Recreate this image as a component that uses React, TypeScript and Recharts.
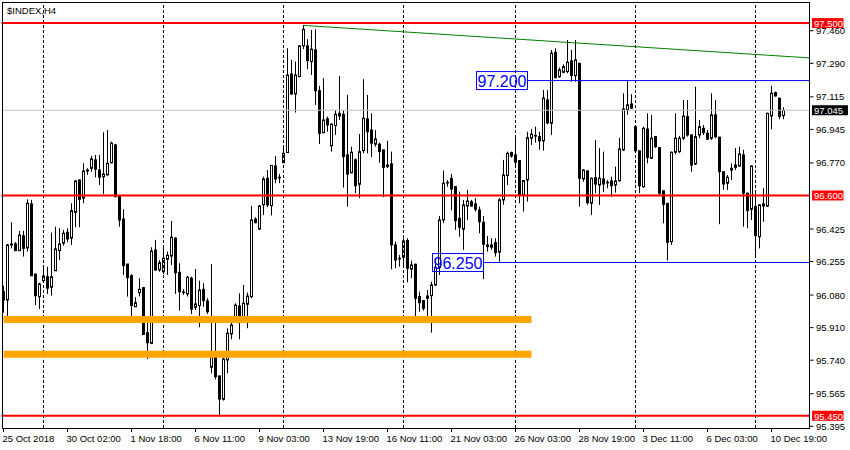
import { ComposedChart, Bar, XAxis, YAxis, ReferenceLine } from "recharts";

// H4 candles (oldest first)
const opens = [
  96.098, 96.054, 96.342, 96.347, 96.312, 96.389, 96.326, 96.556, 96.19, 96.072,
  96.155, 96.176, 96.121, 96.207, 96.312, 96.351, 96.408, 96.377, 96.512, 96.681,
  96.586, 96.728, 96.742, 96.786, 96.733, 96.698, 96.707, 96.771, 96.864, 96.598,
  96.477, 96.242, 96.181, 96.019, 96.093, 96.119, 95.884, 95.828, 96.316, 96.211,
  96.202, 96.267, 96.284, 96.377, 96.199, 96.096, 96.086, 96.168, 96.016, 96.025,
  96.11, 96.049, 95.703, 95.758, 95.658, 95.536, 95.741, 95.877, 95.964, 96.023,
  95.95, 96.032, 96.072, 96.477, 96.425, 96.551, 96.69, 96.547, 96.754, 96.695,
  96.771, 96.824, 97.235, 97.13, 97.221, 97.381, 97.381, 97.299, 97.36, 97.147,
  96.928, 97.0, 96.86, 96.965, 97.029, 97.024, 96.812, 96.719, 96.786, 96.659,
  96.834, 97.0, 96.942, 96.868, 96.868, 96.838, 96.759, 96.765, 96.342, 96.272,
  96.277, 96.365, 96.215, 96.241, 96.072, 96.051, 96.063, 96.077, 96.133, 96.225,
  96.472, 96.667, 96.69, 96.646, 96.481, 96.424, 96.545, 96.568, 96.556, 96.524,
  96.46, 96.342, 96.33, 96.354, 96.304, 96.577, 96.704, 96.824, 96.812, 96.782,
  96.603, 96.681, 96.899, 96.911, 96.907, 96.885, 97.099, 96.977, 97.348, 97.221,
  97.243, 97.247, 97.303, 97.226, 97.29, 96.686, 96.728, 96.559, 96.693, 96.655,
  96.686, 96.669, 96.676, 96.655, 96.677, 96.838, 97.047, 97.078, 96.959, 96.833,
  96.646, 96.947, 96.794, 96.907, 96.85, 96.624, 96.559, 96.359, 96.826, 96.829,
  96.899, 97.012, 96.916, 96.765, 96.916, 96.951, 96.925, 96.899, 97.021, 96.904,
  96.724, 96.664, 96.733, 96.747, 96.754, 96.812, 96.612, 96.528, 96.542, 96.385,
  96.545, 96.545, 97.015, 97.137, 97.108, 97.017,
];
const highs = [
  96.129, 96.347, 96.46, 96.357, 96.415, 96.415, 96.58, 96.577, 96.19, 96.145,
  96.228, 96.228, 96.406, 96.437, 96.429, 96.42, 96.429, 96.559, 96.681, 96.685,
  96.768, 96.742, 96.806, 96.812, 96.812, 96.93, 96.942, 96.881, 96.869, 96.598,
  96.528, 96.242, 96.189, 96.069, 96.168, 96.122, 95.95, 96.33, 96.368, 96.263,
  96.333, 96.307, 96.467, 96.382, 96.246, 96.11, 96.18, 96.176, 96.216, 96.155,
  96.142, 96.063, 96.242, 95.938, 95.658, 95.755, 95.907, 95.971, 96.037, 96.089,
  96.133, 96.093, 96.545, 96.486, 96.551, 96.698, 96.733, 96.759, 96.806, 96.712,
  96.859, 97.369, 97.308, 97.299, 97.384, 97.49, 97.416, 97.464, 97.468, 97.172,
  97.212, 97.012, 96.977, 97.047, 97.224, 97.047, 97.125, 96.855, 96.794, 96.921,
  97.207, 97.125, 97.029, 96.942, 96.876, 96.84, 96.886, 96.829, 96.359, 96.289,
  96.377, 96.377, 96.26, 96.244, 96.098, 96.054, 96.107, 96.15, 96.272, 96.493,
  96.73, 96.681, 96.712, 96.648, 96.62, 96.577, 96.629, 96.577, 96.586, 96.542,
  96.493, 96.389, 96.377, 96.377, 96.586, 96.786, 96.829, 96.829, 96.899, 96.785,
  96.68, 96.933, 96.947, 96.959, 96.933, 97.151, 97.151, 97.36, 97.369, 97.268,
  97.285, 97.412, 97.36, 97.412, 97.293, 96.737, 96.731, 96.693, 96.89, 96.847,
  96.829, 96.681, 96.698, 96.751, 96.902, 97.134, 97.203, 97.129, 96.962, 96.835,
  96.959, 97.029, 97.021, 96.91, 96.853, 96.627, 96.562, 96.829, 97.029, 96.911,
  97.099, 97.099, 96.919, 97.168, 96.994, 96.968, 96.942, 97.134, 97.099, 96.907,
  96.727, 96.707, 96.768, 96.847, 96.855, 96.838, 96.615, 96.757, 96.612, 96.554,
  96.638, 97.032, 97.172, 97.142, 97.11, 97.061,
];
const lows = [
  95.988, 95.94, 96.324, 96.31, 96.31, 96.281, 96.307, 96.18, 96.028, 96.007,
  96.154, 96.086, 96.077, 96.207, 96.263, 96.338, 96.356, 96.342, 96.434, 96.434,
  96.559, 96.707, 96.724, 96.695, 96.655, 96.608, 96.707, 96.768, 96.591, 96.437,
  96.185, 96.072, 95.959, 96.019, 96.073, 95.872, 95.746, 95.828, 96.207, 96.202,
  96.19, 96.185, 96.237, 96.086, 95.999, 96.081, 96.072, 95.981, 96.002, 95.912,
  96.019, 95.981, 95.672, 95.64, 95.445, 95.529, 95.672, 95.849, 95.938, 95.849,
  95.941, 95.907, 96.063, 96.455, 96.42, 96.498, 96.539, 96.496, 96.664, 96.664,
  96.771, 96.824, 97.125, 97.033, 97.217, 97.364, 97.259, 97.229, 97.073, 96.869,
  96.925, 96.933, 96.829, 96.916, 96.994, 96.641, 96.542, 96.716, 96.612, 96.586,
  96.82, 96.82, 96.8, 96.855, 96.771, 96.591, 96.744, 96.215, 96.22, 96.228,
  96.228, 96.147, 96.168, 95.941, 95.993, 95.999, 95.967, 95.884, 96.128, 96.185,
  96.455, 96.646, 96.524, 96.42, 96.385, 96.316, 96.472, 96.542, 96.516, 96.403,
  96.163, 96.307, 96.316, 96.281, 96.254, 96.551, 96.655, 96.798, 96.747, 96.559,
  96.516, 96.568, 96.864, 96.876, 96.838, 96.834, 96.972, 96.916, 97.212, 97.215,
  97.238, 97.238, 97.194, 97.194, 96.542, 96.672, 96.551, 96.498, 96.612, 96.551,
  96.617, 96.638, 96.594, 96.615, 96.672, 96.833, 97.021, 97.052, 96.829, 96.612,
  96.641, 96.768, 96.791, 96.848, 96.603, 96.455, 96.26, 96.342, 96.815, 96.822,
  96.89, 96.907, 96.724, 96.759, 96.899, 96.916, 96.89, 96.89, 96.899, 96.45,
  96.629, 96.629, 96.681, 96.733, 96.751, 96.437, 96.429, 96.472, 96.281, 96.324,
  96.463, 96.54, 96.946, 97.116, 96.998, 96.998,
];
const closes = [
  96.054, 96.342, 96.347, 96.312, 96.394, 96.324, 96.559, 96.181, 96.077, 96.138,
  96.18, 96.116, 96.176, 96.321, 96.347, 96.403, 96.373, 96.521, 96.676, 96.58,
  96.728, 96.733, 96.791, 96.737, 96.695, 96.712, 96.768, 96.873, 96.594, 96.472,
  96.234, 96.171, 96.025, 96.04, 96.11, 95.875, 95.831, 96.31, 96.211, 96.249,
  96.272, 96.288, 96.382, 96.197, 96.098, 96.093, 96.173, 96.007, 96.034, 96.107,
  96.051, 95.993, 95.764, 95.654, 95.537, 95.746, 95.881, 95.924, 96.028, 95.946,
  96.037, 96.075, 96.472, 96.458, 96.545, 96.686, 96.551, 96.757, 96.686, 96.694,
  96.82, 97.229, 97.13, 97.229, 97.381, 97.468, 97.304, 97.364, 97.147, 96.925,
  96.994, 96.968, 96.972, 97.024, 97.015, 96.803, 96.712, 96.826, 96.651, 96.829,
  97.003, 96.933, 96.873, 96.895, 96.829, 96.747, 96.751, 96.342, 96.263, 96.27,
  96.363, 96.22, 96.237, 96.063, 96.04, 96.011, 96.075, 96.133, 96.225, 96.472,
  96.664, 96.669, 96.634, 96.469, 96.434, 96.551, 96.571, 96.545, 96.528, 96.463,
  96.345, 96.333, 96.342, 96.301, 96.577, 96.707, 96.82, 96.806, 96.774, 96.603,
  96.678, 96.902, 96.921, 96.913, 96.885, 97.109, 96.979, 97.343, 97.215, 97.256,
  97.273, 97.296, 97.226, 97.308, 96.69, 96.733, 96.562, 96.69, 96.66, 96.69,
  96.66, 96.667, 96.651, 96.676, 96.843, 97.052, 97.073, 97.056, 96.833, 96.651,
  96.951, 96.798, 96.899, 96.855, 96.612, 96.554, 96.356, 96.826, 96.899, 96.899,
  97.015, 96.916, 96.759, 96.907, 96.959, 96.928, 96.894, 97.021, 96.907, 96.724,
  96.66, 96.695, 96.742, 96.759, 96.817, 96.612, 96.521, 96.754, 96.39, 96.551,
  96.556, 97.029, 97.134, 97.12, 97.012, 97.045,
];

// bar slots incl. the empty chart shift on the right
const SLOTS = 202;

const timeTickBars = [0, 16, 32, 48, 64, 80, 96, 112, 128, 144, 160, 176, 192];
const timeTickLabels = [
  "25 Oct 2018", "30 Oct 02:00", "1 Nov 18:00", "6 Nov 11:00", "9 Nov 03:00",
  "13 Nov 19:00", "16 Nov 11:00", "21 Nov 03:00", "26 Nov 03:00", "28 Nov 19:00",
  "3 Dec 11:00", "6 Dec 03:00", "10 Dec 19:00",
];
const weekStartBars = [10, 40, 70, 100, 128, 158, 188];

// 96.600 is shown by its red tag
const priceTicks = [
  97.46, 97.29, 97.115, 96.945, 96.77, 96.425, 96.255, 96.08, 95.91, 95.74, 95.565, 95.395,
];
const redLevels = [97.5, 96.6, 95.45];
const lastPrice = 97.045;
const orangeLevels = [95.953, 95.771];
const orangeEndBar = 132;
const blueLevels = [
  { price: 97.2, fromBar: 131 },
  { price: 96.25, fromBar: 120 },
];
const trend = [
  { x: 75, y: 97.488 },
  { x: 201, y: 97.319 },
];

const data = Array.from({ length: SLOTS }, (_, i) =>
  i < opens.length
    ? { i, o: opens[i], h: highs[i], l: lows[i], c: closes[i], range: [lows[i], highs[i]] }
    : { i, range: null }
);

const FONT = "'Liberation Sans', Arial, sans-serif";

function Candle(props: any) {
  const { x, y, width, height, payload } = props;
  if (!payload || payload.o == null) return null;
  const { o, h, l, c } = payload;
  const top = Math.min(y, y + height);
  const span = Math.abs(height);
  const cx = Math.round(x + width / 2 - 0.5) + 0.5;
  const py = (v: number) => top + ((h - v) / (h - l)) * span;
  const bTop = py(Math.max(o, c));
  const bBot = py(Math.min(o, c));
  const up = c >= o;
  return (
    <g>
      <line x1={cx} x2={cx} y1={top} y2={top + span} stroke="#000" strokeWidth={1} />
      <rect
        x={cx - 1}
        y={bTop}
        width={2}
        height={Math.max(bBot - bTop, 0.6)}
        fill={up ? "#fff" : "#000"}
        stroke="#000"
        strokeWidth={1}
      />
    </g>
  );
}

const XTick = (p: any) => {
  const k = timeTickBars.indexOf(p.payload.value);
  return (
    <g>
      <line x1={p.x} x2={p.x} y1={428} y2={432} stroke="#000" />
      <text x={p.x - 1} y={442} fontSize={9.5} fontFamily={FONT} fill="#000">
        {timeTickLabels[k]}
      </text>
    </g>
  );
};

const YTick = (p: any) => (
  <g>
    <line x1={809.5} x2={813.5} y1={p.y} y2={p.y} stroke="#000" />
    <text x={816} y={p.y} dominantBaseline="central" fontSize={9.5} fontFamily={FONT} fill="#000">
      {Number(p.payload.value).toFixed(3)}
    </text>
  </g>
);

const priceTag = (text: string, bg: string, w: number) => (p: any) => {
  const vb = p.viewBox;
  const right = vb.x + vb.width;
  return (
    <g>
      <rect x={right + 2.5} y={vb.y - 5} width={w} height={10} fill={bg} />
      <text x={right + 4.5} y={vb.y + 0.5} dominantBaseline="central" fontSize={9.5} fontFamily={FONT} fill="#fff">
        {text}
      </text>
    </g>
  );
};

// horizontal line from an anchor bar to the right edge, with the price box left of the anchor
const blueShape = (text: string) => (p: any) => {
  const { x1, x2, y1 } = p;
  const sx = Math.min(x1, x2);
  const ex = Math.max(x1, x2) + 2;
  return (
    <g>
      <line x1={sx} x2={ex} y1={y1} y2={y1} stroke="#0000FF" strokeWidth={1} />
      <rect x={sx - 51} y={y1 - 9} width={51} height={18} fill="none" stroke="#0000FF" strokeWidth={1} />
      <text x={sx - 25.5} y={y1 + 0.5} textAnchor="middle" dominantBaseline="central" fontSize={16} fontFamily={FONT} fill="#0000FF">
        {text}
      </text>
    </g>
  );
};

const trendShape = (p: any) => {
  const { x1, y1, x2, y2 } = p;
  const step = (x2 - x1) / (trend[1].x - trend[0].x);
  const ex = x2 + step / 2;
  const ey = y2 + ((y2 - y1) / (x2 - x1)) * (step / 2);
  return <line x1={x1} y1={y1} x2={ex} y2={ey} stroke="#008000" strokeWidth={1} />;
};

export default function App() {
  return (
    <div style={{ position: "absolute", left: 0, top: 0, width: 850, height: 450, background: "#fff" }}>
      <ComposedChart
        width={850}
        height={450}
        data={data}
        margin={{ top: 3, right: 0.5, bottom: 0, left: 1.5 }}
        barCategoryGap={0}
      >
        <XAxis
          dataKey="i"
          type="category"
          ticks={timeTickBars}
          interval={0}
          tick={XTick}
          tickLine={false}
          axisLine={false}
          height={22}
        />
        <YAxis
          orientation="right"
          type="number"
          domain={[95.386, 97.605]}
          allowDataOverflow
          ticks={priceTicks}
          interval={0}
          tick={YTick}
          tickLine={false}
          axisLine={false}
          width={40}
        />
        {weekStartBars.map((b) => (
          <ReferenceLine key={"w" + b} x={b} stroke="#000" strokeDasharray="3 2" />
        ))}
        <ReferenceLine
          y={lastPrice}
          stroke="#C0C0C0"
          label={priceTag(lastPrice.toFixed(3), "#000", 36)}
        />
        <Bar dataKey="range" shape={<Candle />} isAnimationActive={false} />
        {orangeLevels.map((v) => (
          <ReferenceLine
            key={"o" + v}
            segment={[
              { x: 0, y: v },
              { x: orangeEndBar, y: v },
            ]}
            stroke="#FFA500"
            strokeWidth={7}
          />
        ))}
        <ReferenceLine segment={trend} shape={trendShape} />
        {blueLevels.map((b) => (
          <ReferenceLine
            key={"b" + b.price}
            segment={[
              { x: b.fromBar, y: b.price },
              { x: SLOTS - 1, y: b.price },
            ]}
            shape={blueShape(b.price.toFixed(3))}
          />
        ))}
        {redLevels.map((v) => (
          <ReferenceLine
            key={"r" + v}
            y={v}
            stroke="#FF0000"
            strokeWidth={2}
            label={priceTag(v.toFixed(3), "#FF0000", 31.5)}
          />
        ))}
      </ComposedChart>
      <div
        style={{
          position: "absolute",
          left: 2,
          top: 2,
          width: 808,
          height: 427,
          border: "1px solid #000",
          boxSizing: "border-box",
          pointerEvents: "none",
        }}
      />
      <div
        style={{
          position: "absolute",
          left: 7,
          top: 5,
          fontFamily: FONT,
          fontSize: 9.5,
          lineHeight: "11px",
          color: "#000",
        }}
      >
        $INDEX,H4
      </div>
    </div>
  );
}
